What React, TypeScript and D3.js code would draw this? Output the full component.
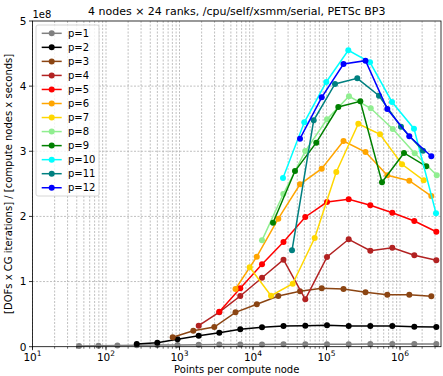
import React from "react";
import * as d3 from "d3";

// ---------- data ----------
const seriesNames = ["p=1", "p=2", "p=3", "p=4", "p=5", "p=6", "p=7", "p=8", "p=9", "p=10", "p=11", "p=12"];
const seriesColors = ["#808080", "#000000", "#8B4513", "#B22222", "#FF0000", "#FFA500", "#FFD700", "#90EE90", "#008000", "#00FFFF", "#008080", "#0000FF"];

const p1X = [43, 79, 143, 262, 499, 940, 1825, 3480, 6710, 13260, 26000, 51460, 101600, 200500, 394400, 785600, 1566000, 3119000];
const p1Y = [0.012, 0.015, 0.018, 0.022, 0.025, 0.028, 0.03, 0.032, 0.034, 0.035, 0.036, 0.037, 0.038, 0.039, 0.04, 0.04, 0.04, 0.04];

const p2X = [262, 499, 940, 1825, 3480, 6710, 13260, 26000, 51460, 101600, 200500, 394400, 785600, 1566000, 3119000];
const p2Y = [0.041, 0.061, 0.114, 0.169, 0.215, 0.267, 0.298, 0.318, 0.322, 0.329, 0.318, 0.318, 0.318, 0.307, 0.302];

const p3X = [808, 1541, 2975, 5780, 11260, 22090, 43600, 86070, 170300, 339300, 671600, 1338000, 2666000];
const p3Y = [0.144, 0.246, 0.302, 0.528, 0.651, 0.778, 0.85, 0.897, 0.886, 0.835, 0.798, 0.798, 0.774];

const p4X = [1825, 3480, 6710, 13260, 26000, 51460, 101600, 200500, 394400, 785600, 1566000, 3119000];
const p4Y = [0.322, 0.53, 0.778, 1.059, 1.336, 0.728, 1.377, 1.649, 1.474, 1.52, 1.403, 1.326];

const p5X = [3480, 6710, 13260, 26000, 51460, 101600, 200500, 394400, 785600, 1566000, 3119000];
const p5Y = [0.537, 0.897, 1.265, 1.607, 1.991, 2.221, 2.263, 2.171, 2.057, 1.93, 1.765];

const p6X = [5780, 11260, 22090, 43600, 86070, 170300, 339300, 671600, 1338000, 2666000];
const p6Y = [0.886, 1.382, 1.965, 2.493, 2.733, 3.158, 2.989, 2.631, 2.548, 2.313];

const p7X = [9020, 17580, 34680, 69080, 135900, 270800, 534500, 1065000, 2101000];
const p7Y = [1.219, 0.783, 0.967, 1.669, 2.682, 3.423, 3.261, 2.8, 2.554];

const p8X = [13260, 25830, 51460, 101600, 202300, 400000, 797000, 1585000, 3160000];
const p8Y = [1.633, 2.344, 3.004, 3.491, 3.844, 3.66, 3.342, 2.969, 2.631];

const p9X = [18710, 37260, 72640, 144700, 288400, 568800, 1133000, 2279000];
const p9Y = [1.904, 2.697, 3.132, 3.68, 3.767, 2.524, 2.974, 2.769];

const p10X = [25590, 49890, 99360, 198000, 390800, 778400, 1550000, 3090000];
const p10Y = [2.59, 3.445, 4.064, 4.55, 4.366, 3.757, 3.347, 2.048];

const p11X = [33940, 66950, 130500, 262400, 517700, 1032000, 2056000];
const p11Y = [1.48, 3.476, 4.033, 4.12, 3.853, 3.377, 3.009];

const p12X = [43600, 86070, 170300, 339300, 671600, 1338000, 2666000];
const p12Y = [3.193, 3.829, 4.34, 4.391, 3.649, 3.23, 2.923];

const seriesX = [p1X, p2X, p3X, p4X, p5X, p6X, p7X, p8X, p9X, p10X, p11X, p12X];
const seriesY = [p1Y, p2Y, p3Y, p4Y, p5Y, p6Y, p7Y, p8Y, p9Y, p10Y, p11Y, p12Y];

const yTicks = [0, 1, 2, 3, 4, 5];
const xMajorExp = [1, 2, 3, 4, 5, 6];
const titleText = "4 nodes \u00d7 24 ranks, /cpu/self/xsmm/serial, PETSc BP3";
const xLabel = "Points per compute node";
const yLabel = "[DOFs x CG iterations] / [compute nodes x seconds]";

// ---------- layout ----------
const W = 443;
const H = 376;
const L = 32.5;
const R = 441;
const T = 21;
const B = 346.7;
const FONT = "DejaVu Sans, sans-serif";

export default function App() {
  const x = d3.scaleLog().domain([10, Math.pow(10, 1 + (R - L) / 73.5)]).range([L, R]);
  const y = d3.scaleLinear().domain([0, 5]).range([B, T]);

  const minorTicks: number[] = [];
  for (let e = 1; e <= 6; e++) {
    for (let m = 1; m <= 9; m++) {
      const v = m * Math.pow(10, e);
      if (v <= x.domain()[1]) minorTicks.push(v);
    }
  }

  const line = d3
    .line<[number, number]>()
    .x((d) => x(d[0]))
    .y((d) => y(d[1]));

  const legendX = 36;
  const legendY = 25;
  const legendRow = 14.04;

  return (
    <svg width={W} height={H} style={{ position: "absolute", left: 0, top: 0 }} fontFamily={FONT}>
      <rect x={0} y={0} width={W} height={H} fill="#fff" />
      {/* grid */}
      {minorTicks.map((v, i) => (
        <line key={"gx" + i} x1={x(v)} x2={x(v)} y1={T} y2={B} stroke="#b0b0b0" strokeWidth={0.8} strokeDasharray="2,1.5" />
      ))}
      {yTicks.slice(1, -1).map((v) => (
        <line key={"gy" + v} x1={L} x2={R} y1={y(v)} y2={y(v)} stroke="#b0b0b0" strokeWidth={0.8} strokeDasharray="2,1.5" />
      ))}
      {/* series */}
      <defs>
        <clipPath id="plotclip">
          <rect x={L} y={T - 4} width={R - L + 4} height={B - T + 8} />
        </clipPath>
      </defs>
      <g clipPath="url(#plotclip)">
        {seriesNames.map((n, si) => {
          const pts: [number, number][] = seriesX[si].map((xv, i) => [xv, seriesY[si][i]]);
          return (
            <g key={n}>
              <path d={line(pts) || ""} fill="none" stroke={seriesColors[si]} strokeWidth={1.5} />
              {pts.map((p, i) => (
                <circle key={i} cx={x(p[0])} cy={y(p[1])} r={3} fill={seriesColors[si]} />
              ))}
            </g>
          );
        })}
      </g>
      {/* spines */}
      <rect x={L} y={T} width={R - L} height={B - T} fill="none" stroke="#000" strokeWidth={0.8} />
      {/* x ticks */}
      {minorTicks.map((v, i) => (
        <line key={"mx" + i} x1={x(v)} x2={x(v)} y1={B} y2={B + 2} stroke="#000" strokeWidth={0.6} />
      ))}
      {xMajorExp.map((e) => (
        <g key={"xt" + e}>
          <line x1={x(Math.pow(10, e))} x2={x(Math.pow(10, e))} y1={B} y2={B + 3.5} stroke="#000" strokeWidth={0.8} />
          <text x={x(Math.pow(10, e))} y={B + 14} fontSize={10.5} textAnchor="middle" fill="#000">
            10<tspan fontSize={7.5} dy={-4.5}>{e}</tspan>
          </text>
        </g>
      ))}
      {/* y ticks */}
      {yTicks.map((v) => (
        <g key={"yt" + v}>
          <line x1={L - 3.5} x2={L} y1={y(v)} y2={y(v)} stroke="#000" strokeWidth={0.8} />
          <text x={L - 6} y={y(v) + 3.8} fontSize={10.5} textAnchor="end" fill="#000">
            {v}
          </text>
        </g>
      ))}
      <text x={L} y={T - 3} fontSize={10} fill="#000">
        1e8
      </text>
      {/* title and labels */}
      <text x={(L + R) / 2} y={T - 6} fontSize={11} textAnchor="middle" fill="#000">
        {titleText}
      </text>
      <text x={(L + R) / 2} y={H - 3} fontSize={10} textAnchor="middle" fill="#000">
        {xLabel}
      </text>
      <text transform={`translate(12,${(T + B) / 2}) rotate(-90)`} fontSize={10} textAnchor="middle" fill="#000">
        {yLabel}
      </text>
      {/* legend */}
      <rect x={legendX} y={legendY} width={63} height={171} rx={2} fill="#fff" fillOpacity={0.8} stroke="#cccccc" strokeWidth={0.8} />
      {seriesNames.map((n, i) => {
        const cy = legendY + 8.3 + i * legendRow;
        return (
          <g key={"lg" + n}>
            <line x1={legendX + 5.7} x2={legendX + 25.7} y1={cy} y2={cy} stroke={seriesColors[i]} strokeWidth={1.5} />
            <circle cx={legendX + 15.7} cy={cy} r={3} fill={seriesColors[i]} />
            <text x={legendX + 32} y={cy + 3.6} fontSize={10} fill="#000">
              {n}
            </text>
          </g>
        );
      })}
    </svg>
  );
}
